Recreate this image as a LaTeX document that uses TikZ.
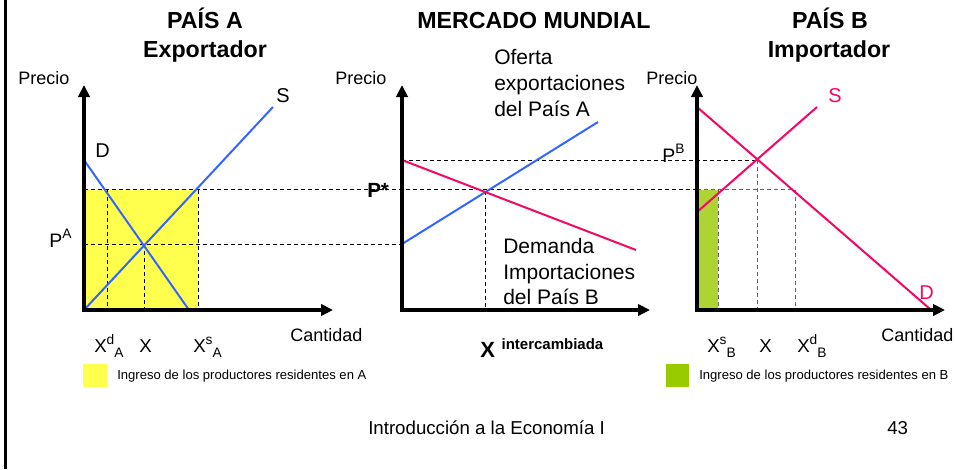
\documentclass[tikz,border=0pt]{standalone}
\usepackage{fontspec}
\setmainfont{Liberation Sans}
\usetikzlibrary{arrows.meta}
\definecolor{cblue}{RGB}{51,102,255}
\definecolor{cpink}{RGB}{245,5,100}
\definecolor{cyellow}{RGB}{255,255,77}
\definecolor{cgreenbar}{RGB}{173,212,51}
\definecolor{cgreenkey}{RGB}{153,204,0}
\definecolor{cgray}{RGB}{100,100,100}
\newcommand\mysup[1]{\raisebox{0.42em}{\fontsize{10.3}{10}\selectfont #1}}
\newcommand\mysub[1]{\raisebox{-0.32em}{\fontsize{10.3}{10}\selectfont #1}}
\begin{document}
\begin{tikzpicture}[x=0.75pt,y=-0.75pt,
  axis/.style={line width=3pt,-{Triangle[length=9pt,width=8.5pt]}},
  curveA/.style={cblue,line width=1.5pt},
  curveB/.style={cpink,line width=1.5pt},
  guide/.style={line width=0.75pt,dash pattern=on 3pt off 2.25pt},
  guidegray/.style={guide,draw=cgray},
  title/.style={font=\fontsize{17.4}{20}\selectfont\bfseries,inner sep=0,anchor=base},
  axlab/.style={font=\fontsize{13.5}{16}\selectfont,inner sep=0,anchor=base west},
  curvelab/.style={font=\fontsize{15}{18}\selectfont,inner sep=0,anchor=base west},
  midlab/.style={font=\fontsize{15.75}{19}\selectfont,inner sep=0,anchor=base west},
  qlab/.style={font=\fontsize{14}{17}\selectfont,inner sep=0,anchor=base west},
  keytext/.style={font=\fontsize{9.8}{12}\selectfont,inner sep=0,anchor=base west},
  foot/.style={font=\fontsize{14}{17}\selectfont,inner sep=0,anchor=base west}]
\useasboundingbox (0,0) rectangle (955,469);
% frame line on the left
\draw[line width=2.25pt] (5.5,0) -- (5.5,469);

% ---------- fills ----------
\fill[cyellow] (84,189.5) rectangle (198,310);
\fill[cgreenbar] (697,189.5) rectangle (718,310);

% ---------- guide lines ----------
\draw[guide] (84,189.5) -- (697,189.5);
\draw[guidegray] (697,189.5) -- (795,189.5);
\draw[guide] (84,244) -- (402,244);
\draw[guide] (402,160) -- (757,160);
\draw[guide] (107,189.5) -- (107,310);
\draw[guide] (144,244) -- (144,310);
\draw[guide] (198,189.5) -- (198,310);
\draw[guide] (485,191) -- (485,310);
\draw[guidegray] (718,189.5) -- (718,310);
\draw[guidegray] (757,160) -- (757,310);
\draw[guidegray] (795,189.5) -- (795,310);

% ---------- curves ----------
\coordinate (DA1) at (84,160);  \coordinate (DA2) at (189,310);
\coordinate (SA1) at (84,310);  \coordinate (SA2) at (273,107);
\draw[curveA] (DA1) -- (DA2);
\draw[curveA] (SA1) -- (SA2);
\coordinate (OX1) at (402,244); \coordinate (OX2) at (598,122);
\coordinate (DM1) at (402,160); \coordinate (DM2) at (636,250);
\draw[curveA] (OX1) -- (OX2);
\draw[curveB] (DM1) -- (DM2);
\coordinate (DB1) at (697,107); \coordinate (DB2) at (930,309);
\coordinate (SB1) at (697,212); \coordinate (SB2) at (817,107);
\draw[curveB] (DB1) -- (DB2);
\draw[curveB] (SB1) -- (SB2);

% ---------- axes ----------
\draw[axis] (84,311.5) -- (84,85);
\draw[axis] (82.5,310) -- (333,310);
\draw[axis] (402,311.5) -- (402,85);
\draw[axis] (400.5,310) -- (650,310);
\draw[axis] (697,311.5) -- (697,85);
\draw[axis] (695.5,310) -- (945,310);

% ---------- titles ----------
\node[title] (tA1) at (205,28) {PAÍS A};
\node[title] (tA2) at (205,57) {Exportador};
\node[title] (tM) at (534,28) {MERCADO MUNDIAL};
\node[title] (tB1) at (830,28) {PAÍS B};
\node[title] (tB2) at (829,57) {Importador};

% ---------- axis labels ----------
\node[axlab] (pA) at (18,84) {Precio};
\node[axlab] (pM) at (335,84) {Precio};
\node[axlab] (pB) at (646,84) {Precio};
\node[axlab] (cA) at (290,341) {Cantidad};
\node[axlab] (cB) at (881,341) {Cantidad};

% ---------- curve labels ----------
\node[curvelab] (lD) at (95,157) {D};
\node[curvelab] (lS) at (276,102) {S};
\node[curvelab,text=cpink] (lSB) at (828,102) {S};
\node[curvelab,text=cpink] (lDB) at (919,299) {D};
\node[midlab] (of1) at (494,64) {Oferta};
\node[midlab] (of2) at (494,90) {exportaciones};
\node[midlab] (of3) at (494,116) {del País A};
\node[midlab] (dm1) at (503,253) {Demanda};
\node[midlab] (dm2) at (503,279) {Importaciones};
\node[midlab] (dm3) at (503,304) {del País B};

% ---------- price labels ----------
\node[qlab,font=\fontsize{14.6}{17}\selectfont] (PA) at (49,247) {P\mysup{A}};
\node[qlab,font=\fontsize{14.6}{17}\selectfont] (PB) at (662,162) {P\mysup{B}};
\node[qlab,font=\fontsize{15.4}{18}\selectfont\bfseries] (Pst) at (367,197) {P*};

% ---------- quantity labels ----------
\node[qlab] (xdA) at (94,352) {X\mysup{d}\mysub{A}};
\node[qlab] (xA) at (139,352) {X};
\node[qlab] (xsA) at (193,352) {X\mysup{s}\mysub{A}};
\node[qlab] (xsB) at (707,352) {X\mysup{s}\mysub{B}};
\node[qlab] (xB) at (759,352) {X};
\node[qlab] (xdB) at (797,352) {X\mysup{d}\mysub{B}};
\node[qlab,font=\fontsize{16.5}{19}\selectfont\bfseries] (xint) at (480,357)
  {X\hspace{5pt}\raisebox{6pt}{\fontsize{11.25}{13}\selectfont intercambiada}};

% ---------- legend ----------
\fill[cyellow] (83,364) rectangle (107,387);
\node[keytext] (kA) at (117,379) {Ingreso de los productores residentes en A};
\fill[cgreenkey] (666,364) rectangle (689,387);
\node[keytext] (kB) at (699,379) {Ingreso de los productores residentes en B};

% ---------- footer ----------
\node[foot] (ft) at (368,434) {Introducción a la Economía I};
\node[foot] (pg) at (887,434) {43};
\end{tikzpicture}
\end{document}
